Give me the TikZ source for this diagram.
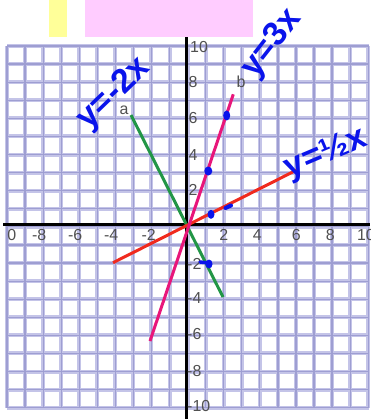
\documentclass[tikz,border=0pt]{standalone}
\usepackage{fontspec}
\setmainfont{Liberation Sans}
\definecolor{yel}{RGB}{255,255,153}
\definecolor{pnk}{RGB}{255,204,255}
\definecolor{gridwide}{RGB}{196,196,232}
\definecolor{gridcore}{RGB}{158,158,210}
\definecolor{grn}{RGB}{34,150,70}
\definecolor{mag}{RGB}{232,22,122}
\definecolor{rd}{RGB}{240,42,30}
\definecolor{bluemk}{RGB}{10,20,235}
\definecolor{lbl}{RGB}{80,80,80}
\begin{document}
\begin{tikzpicture}[x=1bp,y=-1bp,
  gw/.style={draw=gridwide,line width=4bp},
  gc/.style={draw=gridcore,line width=1.2bp},
  axisline/.style={draw=black,line width=3bp},
  plotline/.style={line width=3bp},
  lab/.style={text=lbl,font=\fontsize{16}{16}\selectfont,inner sep=0pt},
  hand/.style={text=bluemk,font=\bfseries\fontsize{34}{34}\selectfont,inner sep=0pt},
  bluedot/.style={fill=bluemk}]
\useasboundingbox (0,0) rectangle (374,419);
\fill[white] (0,0) rectangle (374,419);
% top rectangles
\fill[yel] (49,0) rectangle (67,37);
\fill[pnk] (85,0) rectangle (253,37);
% grid
\foreach \k in {0,...,20} {
  \draw[gw] ({7+18.06*\k},46) -- ({7+18.06*\k},408);
  \draw[gw] (7,{46+18.085*\k}) -- (369,{46+18.085*\k});
}
\foreach \k in {0,...,20} {
  \draw[gc] ({7+18.06*\k},46) -- ({7+18.06*\k},408);
  \draw[gc] (7,{46+18.085*\k}) -- (369,{46+18.085*\k});
}
% axes
\coordinate (yTop) at (186,37);
\coordinate (yBot) at (186,419);
\coordinate (xL) at (3,224.5);
\coordinate (xR) at (370,224.5);
\draw[axisline] (yTop) -- (yBot);
\draw[axisline] (xL) -- (xR);
% x labels
\begin{scope}
\clip (7,0) rectangle (370,419);
\node[lab,anchor=north east] (xm10) at (16.5,229) {-10};
\node[lab,anchor=north east] (xm8) at (46.5,229) {-8};
\node[lab,anchor=north east] (xm6) at (82.5,229) {-6};
\node[lab,anchor=north east] (xm4) at (118.5,229) {-4};
\node[lab,anchor=north east] (xm2) at (156,229) {-2};
\node[lab,anchor=north east] (xp2) at (228.5,229) {2};
\node[lab,anchor=north east] (xp4) at (262,229) {4};
\node[lab,anchor=north east] (xp6) at (301,229) {6};
\node[lab,anchor=north east] (xp8) at (335,229) {8};
\node[lab,anchor=north east] (xp10) at (375,229) {10};
\end{scope}
% y labels
\node[lab,anchor=west] (y10) at (190,47) {10};
\node[lab,anchor=west] (y8) at (188.5,82) {8};
\node[lab,anchor=west] (y6) at (188.5,118) {6};
\node[lab,anchor=west] (y4) at (188.5,155) {4};
\node[lab,anchor=west] (y2) at (188.5,190) {2};
\node[lab,anchor=west] (ym2) at (187,264) {-2};
\node[lab,anchor=west] (ym4) at (187,298) {-4};
\node[lab,anchor=west] (ym6) at (187,334) {-6};
\node[lab,anchor=west] (ym8) at (187,371) {-8};
\node[lab,anchor=west] (ym10) at (187,406) {-10};
% plotted lines
\coordinate (gA) at (131,115);
\coordinate (gB) at (223,297);
\coordinate (rA) at (113,262.7);
\coordinate (rB) at (296.7,170);
\coordinate (pA) at (150,341);
\coordinate (pB) at (233.3,94.3);
\draw[plotline,grn] (gA) -- (gB);
\draw[plotline,rd] (rA) -- (rB);
\draw[plotline,mag] (pA) -- (pB);
% point labels
\node[lab] (la) at (124,110) {a};
\node[lab] (lb) at (241,82) {b};
% blue marks
\fill[bluedot] (208.3,171) ellipse [x radius=4bp,y radius=4.5bp];
\fill[bluedot] (226.7,115.5) ellipse [x radius=3.5bp,y radius=5bp];
\fill[bluedot] (211,214.3) ellipse [x radius=3.5bp,y radius=4.5bp];
\draw[bluemk,line width=4bp,line cap=round] (225.5,208) -- (231,205.5);
\draw[bluemk,line width=3.5bp,line cap=round] (200,262) -- (209,263);
\fill[bluedot] (209,264) ellipse [x radius=3.5bp,y radius=4.5bp];
% handwritten annotations
\node[hand,rotate=44] (t1) at (114,94) {y=-2x};
\node[hand,rotate=52] (t2) at (272,44) {y=3x};
\node[hand,rotate=23] (t3) at (326,154) {y=½x};
\end{tikzpicture}
\end{document}
